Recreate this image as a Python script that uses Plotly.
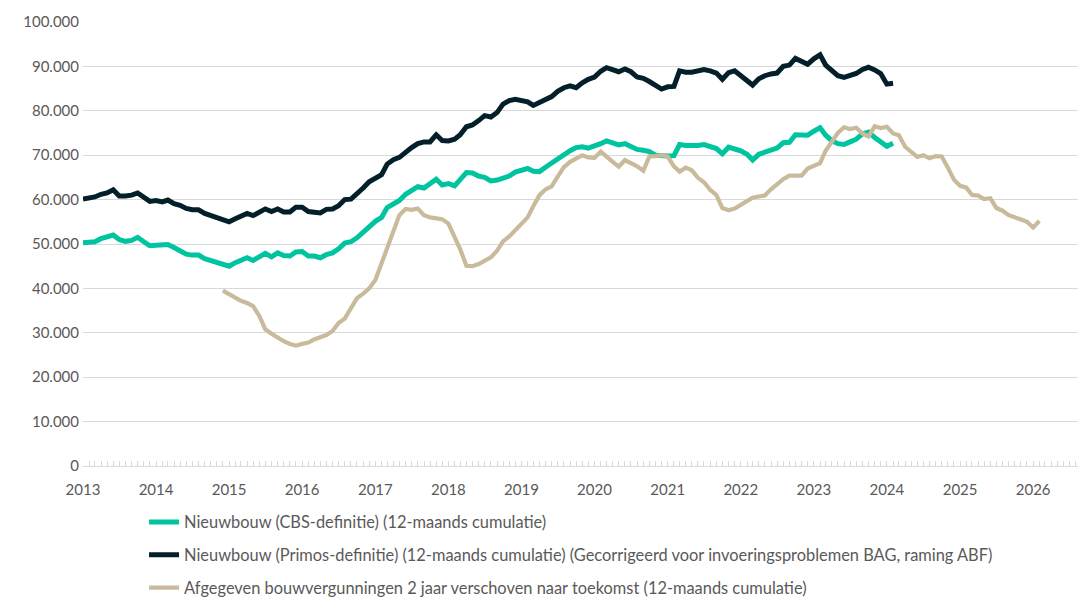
import pandas as pd
import plotly.graph_objects as go

# Monthly values (12-month cumulative)
cbs_start = "2013-01-01"
cbs_values = [
    50300, 50400, 50500, 51200, 51600, 52000, 51000, 50600, 50800, 51500,
    50500, 49600, 49700, 49800, 49900, 49200, 48500, 47700, 47500, 47500,
    46700, 46300, 46000, 45500, 45000, 45800, 46200, 46900, 46300, 47200,
    47900, 47100, 48000, 47400, 47300, 48200, 48300, 47300, 47300, 46900,
    47600, 48000, 48900, 50200, 50500, 51400, 52600, 54000, 55100, 56000,
    58200, 59000, 59800, 61200, 62100, 62900, 62600, 63500, 64600, 63300,
    63600, 63100, 64600, 66100, 66000, 65300, 65000, 64200, 64400, 64900,
    65300, 66200, 66700, 67000, 66400, 66300, 67300, 68200, 69400, 70000,
    71000, 71700, 71900, 71600, 72000, 72600, 73200, 72800, 72300, 72600,
    72000, 71300, 71100, 70800, 70000, 69800, 69800, 69900, 72400, 72200,
    72100, 72200, 72400, 72000, 71500, 70300, 71800, 71400, 71000, 70200,
    68900, 70200, 70700, 71000, 71600, 72800, 72900, 74600, 74600, 74500,
    75400, 76200, 74500, 73300, 72600, 72400, 73000, 73600, 74800, 75200,
    74000, 73000, 72000, 72700,
]

primos_start = "2013-01-01"
primos_values = [
    60100, 60300, 60600, 61200, 61500, 62200, 60800, 60800, 61000, 61500,
    60600, 59600, 59800, 59500, 59900, 59100, 58700, 58000, 57700, 57700,
    56900, 56400, 56000, 55500, 55000, 55700, 56200, 56900, 56400, 57300,
    57900, 57300, 57900, 57200, 57200, 58300, 58300, 57300, 57200, 57000,
    57800, 57900, 58600, 60000, 60100, 61200, 62600, 64000, 64800, 65600,
    68000, 69000, 69500, 70700, 71700, 72600, 73000, 73000, 74600, 73300,
    73200, 73600, 74600, 76400, 76800, 77800, 78900, 78600, 79600, 81500,
    82300, 82600, 82400, 82000, 81200, 81900, 82600, 83200, 84400, 85200,
    85600, 85200, 86300, 87100, 87600, 88900, 89700, 89300, 88800, 89400,
    88800, 87600, 87300, 86600, 85600, 84900, 85400, 85500, 89000, 88700,
    88700, 88900, 89300, 89000, 88500, 87100, 88600, 89000, 88000, 86800,
    85800, 87200, 87900, 88300, 88500, 90000, 90300, 91800, 91200, 90500,
    91700, 92600, 90300, 89000, 87900, 87500, 87900, 88400, 89300, 89800,
    89200, 88400, 86000, 86200,
]

permits_start = "2014-12-01"
permits_values = [
    39500, 38700, 38000, 37200, 36700, 36000, 33800,
    30800, 29800, 28900, 28100, 27500, 27100, 27500, 27800, 28500, 29100,
    29500, 30400, 32200, 33200, 35600, 37800, 38800, 40000, 41900, 45700,
    49300, 53500, 56500, 57900, 57700, 58000, 56500, 56000, 55700, 55600,
    54600, 51500, 48800, 45100, 45000, 45500, 46200, 47000, 48500, 50600,
    51700, 53200, 54700, 56000, 58500, 61000, 62300, 63000, 65200, 67300,
    68500, 69200, 70000, 69500, 69400, 70800, 69600, 68500, 67400, 68900,
    68200, 67500, 66500, 69700, 69800, 70000, 69700, 67500, 66300, 67200,
    66600, 64900, 63900, 62200, 61000, 58100, 57600, 58000, 58800, 59600,
    60400, 60700, 60900, 62300, 63400, 64600, 65400, 65400, 65400, 67000,
    67500, 68200, 71000, 73000, 75000, 76300, 75900, 76200, 74900, 74200,
    76500, 76100, 76400, 74900, 74500, 71900, 70900, 69600, 70000, 69300,
    69800, 69700, 67200, 64500, 63100, 62700, 61100, 60900, 60100, 60300,
    58100, 57500, 56500, 55900, 55500, 55000, 53700, 55200,
]

names = [
    "Nieuwbouw (CBS-definitie) (12-maands cumulatie)",
    "Nieuwbouw (Primos-definitie) (12-maands cumulatie) (Gecorrigeerd voor invoeringsproblemen BAG, raming ABF)",
    "Afgegeven bouwvergunningen 2 jaar verschoven naar toekomst (12-maands cumulatie)",
]
colors = ["#00C49F", "#03202A", "#C9BA9B"]
widths = [5, 5, 4.2]

y_ticks = [0, 10000, 20000, 30000, 40000, 50000, 60000, 70000, 80000, 90000, 100000]

series = [
    (cbs_start, cbs_values),
    (primos_start, primos_values),
    (permits_start, permits_values),
]

FONT = "Lato"
GREY = "#595959"
GRID = "#D9D9D9"

fig = go.Figure()
for i, (start, vals) in enumerate(series):
    dates = pd.date_range(start, periods=len(vals), freq="MS")
    fig.add_trace(go.Scatter(
        x=dates, y=vals, mode="lines", name=names[i],
        legendgroup=f"g{i}",
        line=dict(color=colors[i], width=widths[i]),
    ))

fig.update_layout(
    width=1078, height=591,
    margin=dict(l=75, r=0, t=14, b=133, autoexpand=False),
    paper_bgcolor="white", plot_bgcolor="white",
    separators=",.",
    font=dict(family=FONT, size=15, color=GREY),
    showlegend=True,
    legend=dict(
        orientation="v", xref="container", yref="container",
        x=0.1262, xanchor="left", y=0.1595, yanchor="top",
        font=dict(family=FONT, size=16.4, color=GREY),
        tracegroupgap=8.5, itemwidth=30, bgcolor="rgba(0,0,0,0)",
    ),
)
fig.update_yaxes(
    range=[0, 100000], tickvals=y_ticks, tickformat=",d",
    showgrid=True, gridcolor=GRID, gridwidth=1.3,
    zeroline=False, showline=False, ticks="",
    ticklabelstandoff=3,
    tickfont=dict(family=FONT, size=15, color=GREY),
)
fig.update_xaxes(
    type="date", range=["2013-01-01", "2026-09-22"],
    tick0="2013-01-01", dtick="M12", tickformat="%Y",
    showgrid=False, zeroline=False,
    showline=True, linecolor=GRID, linewidth=1.3,
    ticks="inside", ticklen=5, tickcolor=GRID, tickwidth=1,
    minor=dict(dtick="M1", tick0="2013-01-01", ticks="inside", ticklen=5,
               tickcolor=GRID, tickwidth=1, showgrid=False),
    ticklabelstandoff=10,
    tickfont=dict(family=FONT, size=15, color=GREY),
)

fig.write_html("out.html")
